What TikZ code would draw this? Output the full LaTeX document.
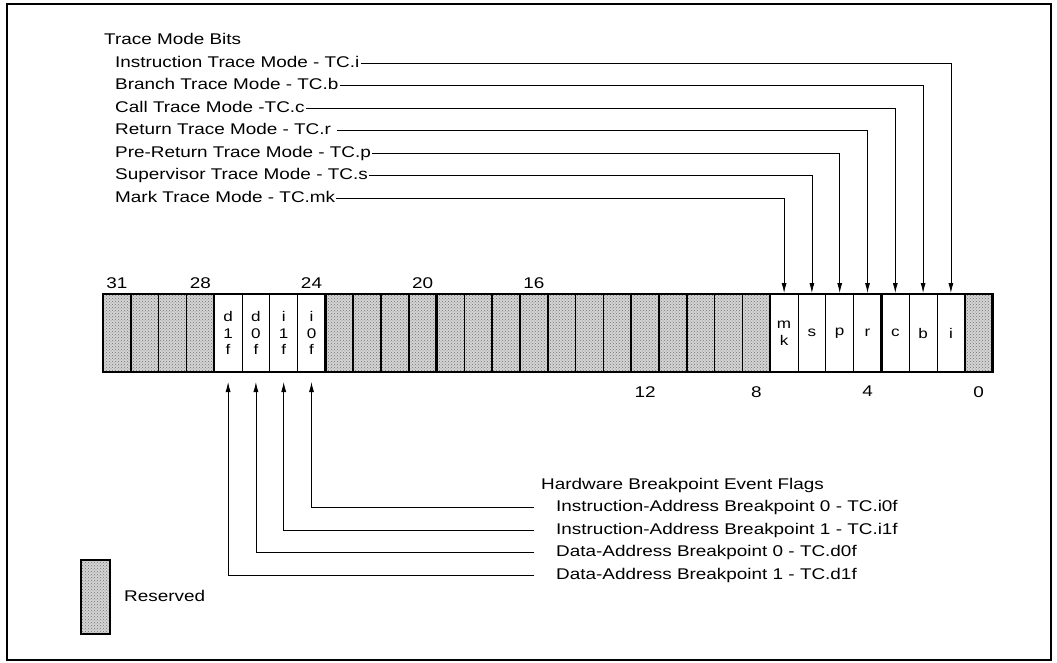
\documentclass[tikz,border=0pt]{standalone}
\usepackage{fontspec}
\setmainfont[FakeStretch=1.22]{Liberation Sans}
\usepackage{tikz}
\usetikzlibrary{positioning, arrows.meta, patterns}

\tikzset{
  bitcell/.style={draw, line width=0.9pt, minimum width=27.8pt, minimum height=78pt,
    inner sep=0pt, outer sep=0pt, align=center, font=\fontsize{14}{16.5}\selectfont},
  resv/.style={bitcell, line width=1.6pt, pattern=crosshatch dots, pattern color=black!55,
    preaction={fill=black!17}},
  lbl/.style={anchor=west, inner sep=1pt, font=\fontsize{15.5}{18}\selectfont,
    text height=11.5pt, text depth=3pt},
  bitno/.style={font=\fontsize{15.5}{18}\selectfont, inner sep=1pt},
  flagarrow/.style={-{Latex[length=10pt,width=5pt]}, line width=0.8pt},
}

\begin{document}
\begin{tikzpicture}[x=1pt, y=-1pt]
\useasboundingbox (0,0) rectangle (1057,663);
\draw[line width=1.4pt] (7,4) rectangle (1051,660);

% register cells, bit 31 on the left
\foreach \b in {0,8,9,...,23,28,29,30,31}
  \node[resv] (c\b) at ({103+(31-\b)*27.8+13.9},333) {};
\foreach \b/\t in {1/i, 2/b, 3/c, 4/r, 5/p, 6/s, 7/{m\\k},
                   24/{i\\0\\f}, 25/{i\\1\\f}, 26/{d\\0\\f}, 27/{d\\1\\f}}
  \node[bitcell] (c\b) at ({103+(31-\b)*27.8+13.9},333) {\t};
\foreach \b in {4,8,...,28}
  \draw[line width=2.4pt] (c\b.north east) -- (c\b.south east);
\draw[line width=2.4pt] (c31.north west) rectangle (c0.south east);

\foreach \b in {31,28,24,20,16}
  \node[bitno, above=4pt of c\b] {\b};
\foreach \b in {12,8,4,0}
  \node[bitno, below=13pt of c\b] {\b};

% trace mode bits
\node[lbl] (tmb) at (103,40) {Trace Mode Bits};
\node[lbl] (ti) at (114,63) {Instruction Trace Mode - TC.i};
\node[lbl] (tb) at (114,85.5) {Branch Trace Mode - TC.b\ };
\node[lbl] (tc) at (114,108) {Call Trace Mode -TC.c};
\node[lbl] (tr) at (114,130.5) {Return Trace Mode - TC.r\ \ };
\node[lbl] (tp) at (114,153) {Pre-Return Trace Mode - TC.p};
\node[lbl] (ts) at (114,175.5) {Supervisor Trace Mode - TC.s\ };
\node[lbl] (tmk) at (114,198) {Mark Trace Mode - TC.mk};
\foreach \n/\b in {ti/1, tb/2, tc/3, tr/4, tp/5, ts/6, tmk/7}
  \draw[flagarrow, shorten >=1pt] (\n.east) -| (c\b.north);

% breakpoint flags
\node[lbl] (hbf) at (540,485) {Hardware Breakpoint Event Flags};
\node[lbl] (fi0) at (555,507.5) {Instruction-Address Breakpoint 0 - TC.i0f};
\node[lbl] (fi1) at (555,530) {Instruction-Address Breakpoint 1 - TC.i1f};
\node[lbl] (fd0) at (555,552.5) {Data-Address Breakpoint 0 - TC.d0f};
\node[lbl] (fd1) at (555,575) {Data-Address Breakpoint 1 - TC.d1f};
\foreach \n/\b in {fi0/24, fi1/25, fd0/26, fd1/27}
  \draw[flagarrow, shorten >=10pt] ([xshift=-21pt]\n.west) -| (c\b.south);

% legend
\node[resv, minimum height=74pt, minimum width=29pt] (key) at (95.5,597) {};
\node[lbl, right=13pt of key] (keytxt) {Reserved};
\end{tikzpicture}
\end{document}
